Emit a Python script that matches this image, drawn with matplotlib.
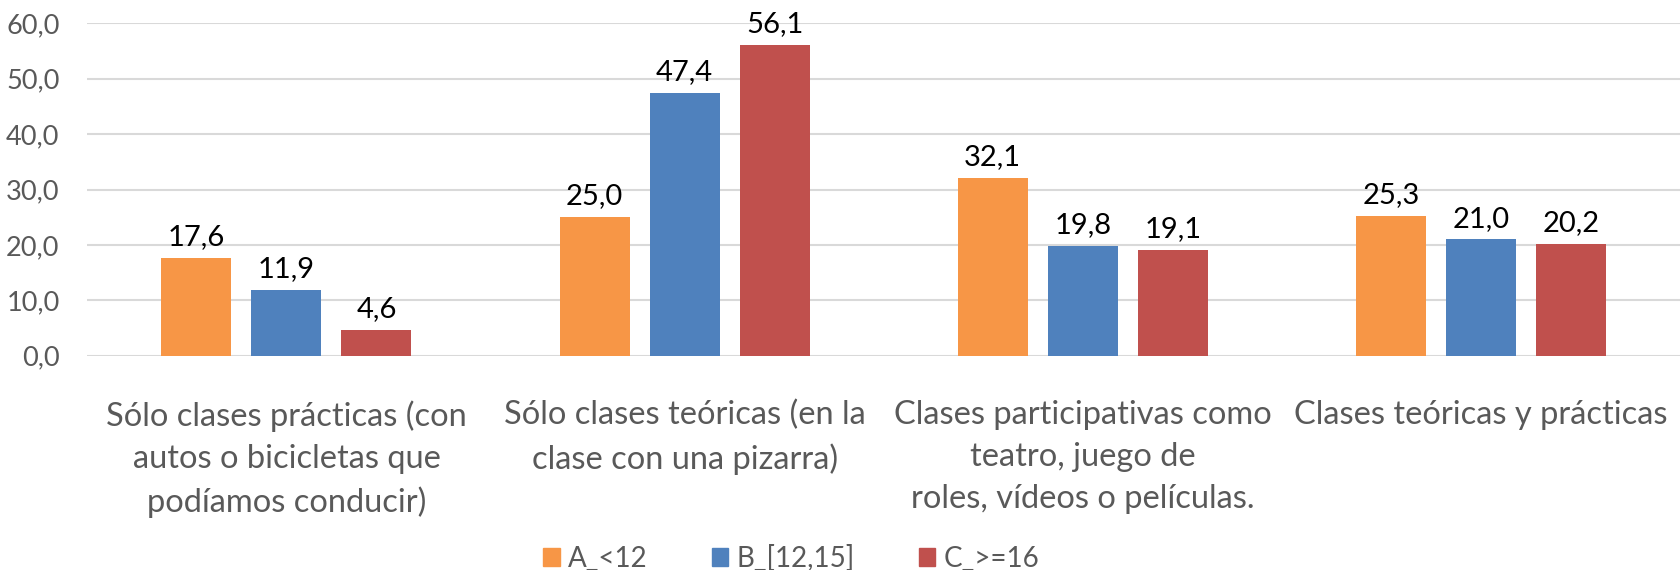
import matplotlib
matplotlib.use("Agg")
import matplotlib.pyplot as plt
import numpy as np
from matplotlib.patches import Patch

categories = [
    "Sólo clases prácticas (con\nautos o bicicletas que\npodíamos conducir)",
    "Sólo clases teóricas (en la\nclase con una pizarra)",
    "Clases participativas como\nteatro, juego de\nroles, vídeos o películas.",
    "Clases teóricas y prácticas",
]
series_names = ["A_<12", "B_[12,15]", "C_>=16"]
values_a = [17.6, 25.0, 32.1, 25.3]
values_b = [11.9, 47.4, 19.8, 21.0]
values_c = [4.6, 56.1, 19.1, 20.2]
yticks = [0, 10, 20, 30, 40, 50, 60]

colors = ["#F79646", "#4F81BD", "#C0504D"]
font = ["Lato", "DejaVu Sans"]
plt.rcParams["font.family"] = font

fig = plt.figure(figsize=(16.8, 5.7), dpi=100)
ax = fig.add_axes([0.052, 0.376, 0.948, 0.583])

x = np.arange(len(categories))
w = 0.176
step = 0.226
for i, (vals, c) in enumerate(zip([values_a, values_b, values_c], colors)):
    xs = x + (i - 1) * step
    ax.bar(xs, vals, width=w, color=c, zorder=3)
    for xx, v in zip(xs, vals):
        ax.text(xx, v + 1.4, f"{v:.1f}".replace(".", ","), ha="center", va="bottom",
                fontsize=21, color="black", zorder=4)

ax.set_xlim(-0.5, len(categories) - 0.5)
ax.set_ylim(0, 60)
ax.set_yticks(yticks)
ax.set_yticklabels([f"{t:.1f}".replace(".", ",") for t in yticks], fontsize=19.5, color="#595959")
ax.yaxis.grid(True, color="#D9D9D9", linewidth=1.5, zorder=0)
ax.tick_params(axis="y", length=0, pad=20)
ax.set_xticks(x)
ax.set_xticklabels(categories, fontsize=23.5, color="#595959", linespacing=1.5)
ax.tick_params(axis="x", length=0, pad=32)
for s in ax.spines.values():
    s.set_visible(False)

handles = [Patch(facecolor=c, edgecolor=c) for c in colors]
fig.legend(handles, series_names, loc="center", bbox_to_anchor=(0.471, 0.02), ncol=3,
           frameon=False, fontsize=20, labelcolor="#595959", handlelength=0.6,
           handleheight=0.6, handletextpad=0.3, columnspacing=2.3)

fig.savefig("out.png", dpi=100)
